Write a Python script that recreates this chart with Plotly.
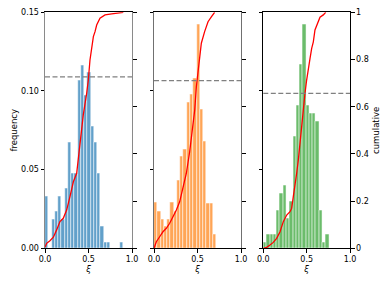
import numpy as np
import plotly.graph_objects as go

# ---------------- data ----------------
freq_a = [0.0332, 0.0, 0.0186, 0.0237, 0.0332, 0.0186, 0.0381, 0.0676, 0.0479, 0.0479,
          0.107, 0.1165, 0.097, 0.1119, 0.0773, 0.0676, 0.0479, 0.0137, 0.0038, 0.0038,
          0.0, 0.0, 0.0, 0.0038]
freq_b = [0.029, 0.0237, 0.0186, 0.0137, 0.0186, 0.029, 0.0237, 0.0434, 0.0582, 0.0631,
          0.093, 0.0979, 0.1078, 0.1426, 0.0884, 0.068, 0.0286, 0.0286, 0.0089]
freq_c = [0.0038, 0.0089, 0.0089, 0.0089, 0.0243, 0.035, 0.040, 0.019, 0.0296, 0.071,
          0.091, 0.117, 0.1426, 0.091, 0.0858, 0.0858, 0.081, 0.0243, 0.0038, 0.0089]
bin_width = [0.0375, 0.0376, 0.0378]

cum_a_x = [0, 0.019, 0.057, 0.096, 0.134, 0.172, 0.21, 0.249, 0.287, 0.326, 0.364, 0.402,
           0.44, 0.479, 0.498, 0.517, 0.536, 0.556, 0.575, 0.594, 0.632, 0.69, 0.767, 0.9]
cum_a_y = [0.004, 0.021, 0.032, 0.047, 0.078, 0.113, 0.127, 0.162, 0.219, 0.282, 0.318, 0.445,
           0.565, 0.657, 0.713, 0.798, 0.84, 0.897, 0.918, 0.946, 0.975, 0.989, 0.993, 1.0]
cum_b_x = [0, 0.027, 0.065, 0.103, 0.142, 0.18, 0.218, 0.257, 0.295, 0.333, 0.372, 0.41,
           0.448, 0.468, 0.487, 0.506, 0.525, 0.544, 0.582, 0.621, 0.659, 0.697]
cum_b_y = [0.0, 0.028, 0.049, 0.07, 0.085, 0.106, 0.134, 0.162, 0.197, 0.254, 0.318, 0.409,
           0.515, 0.586, 0.685, 0.748, 0.812, 0.869, 0.918, 0.96, 0.981, 1.0]
cum_c_x = [0, 0.039, 0.077, 0.115, 0.154, 0.193, 0.231, 0.27, 0.308, 0.327, 0.346, 0.366,
           0.385, 0.404, 0.423, 0.443, 0.461, 0.481, 0.5, 0.519, 0.539, 0.558, 0.577, 0.596,
           0.616, 0.635, 0.654, 0.692, 0.72]
cum_c_y = [0.0, 0.004, 0.014, 0.025, 0.042, 0.07, 0.113, 0.141, 0.155, 0.169, 0.219, 0.261,
           0.318, 0.374, 0.445, 0.515, 0.6, 0.657, 0.713, 0.77, 0.805, 0.847, 0.875, 0.925,
           0.946, 0.967, 0.979, 0.989, 1.0]
dash_levels = [0.109, 0.1066, 0.0985]

freq_ticks = [0, 0.05, 0.10, 0.15]
freq_labels = ["0.00", "0.05", "0.10", "0.15"]
cum_ticks = [0, 0.2, 0.4, 0.6, 0.8, 1.0]
cum_labels = ["0", "0.2", "0.4", "0.6", "0.8", "1"]
x_ticks = [0, 0.5, 1.0]
x_labels = ["0.0", "0.5", "1.0"]

bar_colors = ["rgb(98,160,202)", "rgb(255,165,86)", "rgb(107,188,107)"]
spine_colors = ["#8a8a8a", "#707070", "#000000"]

W, H = 390, 287
x_domains = [(45 / W, 132 / W), (154 / W, 241 / W), (263.3 / W, 350 / W)]
y_domain = [1 - 248.3 / H, 1 - 12.3 / H]

FONT = dict(family="DejaVu Sans", size=8, color="black")

fig = go.Figure()
freqs = [freq_a, freq_b, freq_c]
cums = [(cum_a_x, cum_a_y), (cum_b_x, cum_b_y), (cum_c_x, cum_c_y)]

for i in range(3):
    xa = "x" if i == 0 else f"x{i+1}"
    yf = f"y{2*i+1}" if i > 0 else "y"
    yc = f"y{2*i+2}"
    f = np.array(freqs[i])
    w = bin_width[i]
    centers = np.arange(len(f)) * w + w / 2
    fig.add_trace(go.Bar(x=centers, y=f, width=w, xaxis=xa, yaxis=yf,
                         marker=dict(color=bar_colors[i], line=dict(color="white", width=0.5)),
                         showlegend=False))
    fig.add_trace(go.Scatter(x=cums[i][0], y=cums[i][1], mode="lines", xaxis=xa, yaxis=yc,
                             line=dict(color="red", width=1.3), showlegend=False))
    fig.add_shape(type="line", xref=f"{xa} domain", yref=yf, x0=0, x1=1,
                  y0=dash_levels[i], y1=dash_levels[i],
                  line=dict(color="gray", width=1.2, dash="5px,2.5px"))

layout = dict(width=W, height=H, margin=dict(l=0, r=0, t=0, b=0, autoexpand=False),
              paper_bgcolor="white", plot_bgcolor="white", font=FONT,
              bargap=0, showlegend=False)

for i in range(3):
    xk = "xaxis" if i == 0 else f"xaxis{i+1}"
    yfk = "yaxis" if i == 0 else f"yaxis{2*i+1}"
    yck = f"yaxis{2*i+2}"
    yf_name = "y" if i == 0 else f"y{2*i+1}"
    x_name = "x" if i == 0 else f"x{i+1}"
    layout[xk] = dict(domain=list(x_domains[i]), range=[0, 1], anchor=yf_name, automargin=False,
                      tickvals=x_ticks, ticktext=x_labels, ticks="outside", ticklen=3.5,
                      tickcolor="black", showline=True, linecolor="black", linewidth=1,
                      mirror=True, showgrid=False, zeroline=False,
                      title=dict(text="<i>ξ</i>", standoff=2, font=dict(family="DejaVu Sans", size=8.5)))
    layout[yfk] = dict(domain=y_domain, range=[0, 0.15], anchor=x_name, side="left", automargin=False,
                       tickvals=freq_ticks, ticktext=freq_labels, ticks="outside", ticklen=3.5,
                       tickcolor="black", showline=True, linecolor=spine_colors[i], linewidth=1,
                       showticklabels=(i == 0), showgrid=False, zeroline=False)
    layout[yck] = dict(range=[0, 1], anchor=x_name, overlaying=yf_name, side="right", automargin=False,
                       tickvals=cum_ticks, ticktext=cum_labels, ticks="outside", ticklen=3.5,
                       tickcolor="black", showline=True, linecolor=spine_colors[i], linewidth=1,
                       showticklabels=(i == 2), showgrid=False, zeroline=False)

layout["yaxis"]["title"] = dict(text="frequency", standoff=2, font=dict(family="DejaVu Sans", size=8.5))
layout["yaxis6"]["title"] = dict(text="cumulative", standoff=5, font=dict(family="DejaVu Sans", size=8.5))

fig.update_layout(**layout)
fig.write_html("out.html", config={"displayModeBar": False},
               post_script="document.body.style.margin='0';document.body.style.overflow='hidden';")
